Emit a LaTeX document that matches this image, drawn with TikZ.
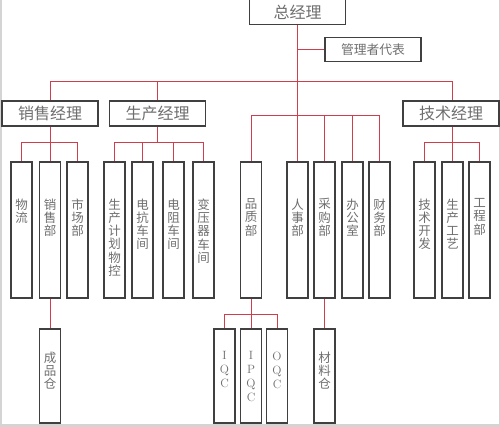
\documentclass[tikz,border=0pt]{standalone}
\usepackage{fontspec}
\newfontfamily\cjk{Noto Sans CJK SC}
\definecolor{linered}{RGB}{206,62,76}
\definecolor{boxgray}{RGB}{64,64,64}
\definecolor{textgray}{RGB}{110,110,110}
\definecolor{pagegray}{RGB}{212,212,212}
\tikzset{
  mgr/.style={draw=boxgray, line width=1.2pt, minimum width=96pt, minimum height=25pt,
    inner sep=0pt, text=textgray, font=\cjk\fontsize{16}{16}\selectfont},
  dept/.style={draw=boxgray, line width=1.2pt, minimum width=21pt, inner sep=0pt},
  cjktext/.style={text=textgray, align=center, inner sep=0pt, font=\cjk\fontsize{12.5}{13.3}\selectfont},
  lattext/.style={text=textgray, align=center, inner sep=0pt, font=\rmfamily\fontsize{12}{14}\selectfont},
  conn/.style={linered, line width=0.9pt}
}

\begin{document}
\begin{tikzpicture}[x=1pt,y=-1pt]
\useasboundingbox (0,0) rectangle (500,427);
% page edges
\draw[pagegray, line width=1.5pt] (0.75,0) -- (0.75,427);
\draw[pagegray, line width=1.5pt] (499.25,0) -- (499.25,427);
\fill[pagegray] (0,424) rectangle (500,427);

% managers
\node[mgr] (zjl) at (297.5,12) {总经理};
\node[mgr, minimum height=24pt, font=\cjk\fontsize{12.8}{13}\selectfont] (gldb) at (373,49.5) {管理者代表};
\node[mgr] (xsjl) at (50,113.5) {销售经理};
\node[mgr] (scjl) at (157.5,113.5) {生产经理};
\node[mgr] (jsjl) at (451,113.5) {技术经理};

% departments
\foreach \nm/\x/\txt in {wl/21.5/{物\\流}, xsb/50/{销\\售\\部}, scb/77.5/{市\\场\\部},
    jhwk/114.5/{生\\产\\计\\划\\物\\控}, dkcj/142.5/{电\\抗\\车\\间}, dzcj/173.5/{电\\阻\\车\\间},
    byqcj/203.5/{变\\压\\器\\车\\间}, pzb/251/{品\\质\\部}, rsb/297.5/{人\\事\\部},
    cgb/324.5/{采\\购\\部}, bgs/352.5/{办\\公\\室}, cwb/379.5/{财\\务\\部},
    jskf/424.5/{技\\术\\开\\发}, scgy/452.5/{生\\产\\工\\艺}, gcb/479.5/{工\\程\\部}}{
  \node[dept, minimum height=136pt] (\nm) at (\x,230) {};
  \node[cjktext, anchor=north] at ([yshift=-37pt]\nm.north) {\txt};
}

% lower boxes
\foreach \nm/\x/\f/\txt in {cpc/50/cjktext/{成\\品\\仓}, iqc/224.5/lattext/{I\\Q\\C},
    ipqc/251/lattext/{I\\P\\Q\\C}, oqc/277/lattext/{O\\Q\\C}, clc/324.5/cjktext/{材\\料\\仓}}{
  \node[dept, minimum height=94pt] (\nm) at (\x,376) {};
  \node[\f, anchor=north] at ([yshift=-23pt]\nm.north) {\txt};
}

% bus levels
\coordinate (mgrbus) at (297.5,81);
\coordinate (admbus) at (297.5,115);
\coordinate (deptbus) at (297.5,142);
\coordinate (qcbus) at (251,314);

% connectors
\draw[conn] (zjl.south) -- (rsb.north);
\draw[conn] (gldb.west) -- (gldb.west -| zjl.south);
\draw[conn] (xsjl.north) -- (xsjl.north |- mgrbus) -- (scgy.north |- mgrbus) -- (jsjl.north -| scgy.north);
\draw[conn] (scjl.north) -- (scjl.north |- mgrbus);
\draw[conn] (pzb.north) -- (pzb.north |- admbus) -- (cwb.north |- admbus) -- (cwb.north);
\draw[conn] (cgb.north) -- (cgb.north |- admbus);
\draw[conn] (bgs.north) -- (bgs.north |- admbus);

\draw[conn] (xsjl.south) -- (xsb.north);
\draw[conn] (wl.north) -- (wl.north |- deptbus) -| (scb.north);
\draw[conn] (scjl.south) -- (scjl.south |- deptbus);
\draw[conn] (jhwk.north) -- (jhwk.north |- deptbus) -| (byqcj.north);
\draw[conn] (dkcj.north) -- (dkcj.north |- deptbus);
\draw[conn] (dzcj.north) -- (dzcj.north |- deptbus);
\draw[conn] (jsjl.south -| scgy.north) -- (scgy.north);
\draw[conn] (jskf.north) -- (jskf.north |- deptbus) -| (gcb.north);

\draw[conn] (xsb.south) -- (cpc.north);
\draw[conn] (pzb.south) -- (ipqc.north);
\draw[conn] (iqc.north) -- (iqc.north |- qcbus) -| (oqc.north);
\draw[conn] (cgb.south) -- (clc.north);
\end{tikzpicture}
\end{document}
